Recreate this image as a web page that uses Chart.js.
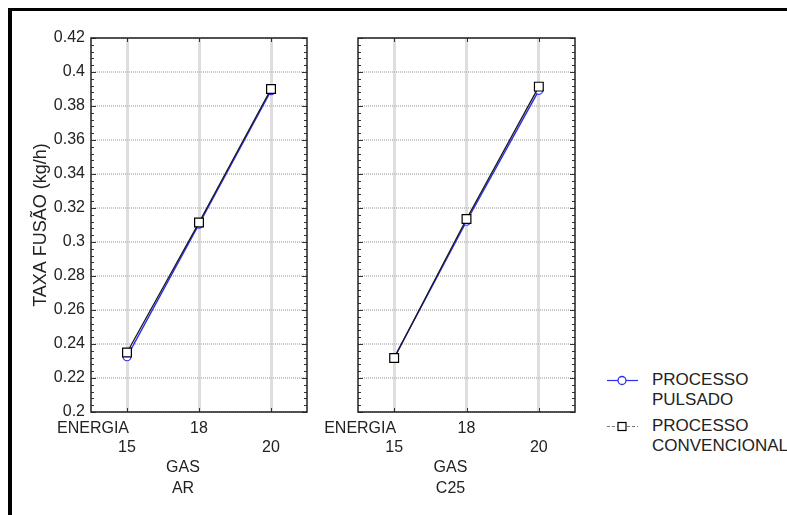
<!DOCTYPE html>
<html><head><meta charset="utf-8">
<script src="https://cdn.jsdelivr.net/npm/chart.js@4.4.1/dist/chart.umd.min.js"></script>
<style>
html,body{margin:0;padding:0;background:#fff;}
body{width:787px;height:515px;position:relative;overflow:hidden;font-family:"Liberation Sans",Arial,sans-serif;color:#222;}
#frame{position:absolute;left:8px;top:8px;width:800px;height:530px;border-left:4px solid #000;border-top:3px solid #000;box-sizing:border-box;}
#c1{position:absolute;left:0;top:0;}
#c2{position:absolute;left:300px;top:0;}
.legtxt{position:absolute;left:652px;font-size:17px;line-height:20px;white-space:nowrap;color:#222;}
#legsvg{position:absolute;left:600px;top:370px;}
</style>
</head><body>
<div id="frame"></div>
<canvas id="c1" width="330" height="515"></canvas>
<canvas id="c2" width="300" height="515"></canvas>
<svg id="legsvg" width="45" height="70">
  <line x1="7" y1="10.5" x2="38" y2="10.5" stroke="#3030f0" stroke-width="1.2"/>
  <circle cx="22" cy="10.5" r="4" fill="#fff" stroke="#3030f0" stroke-width="1.3"/>
  <line x1="7" y1="56.5" x2="38" y2="56.5" stroke="#777" stroke-width="1.2" stroke-dasharray="3,2"/>
  <rect x="18" y="52.5" width="8" height="8" fill="#fff" stroke="#000" stroke-width="1.2"/>
</svg>
<div class="legtxt" style="top:370px">PROCESSO<br>PULSADO</div>
<div class="legtxt" style="top:416px">PROCESSO<br>CONVENCIONAL</div>
<script>
// ---- data ----
const energia = ['15', '18', '20'];
const gasTypes = ['AR', 'C25'];
const pulsadoAR = [0.2325, 0.3105, 0.389];
const convencionalAR = [0.235, 0.3115, 0.390];
const pulsadoC25 = [0.2318, 0.3122, 0.3892];
const convencionalC25 = [0.2318, 0.3135, 0.3914];
const yMin = 0.2, yMax = 0.42, yStep = 0.02, yMinorStep = 0.004;
const yTitle = 'TAXA FUSÃO (kg/h)';
const energiaLabel = 'ENERGIA';
const gasLabel = 'GAS';

const FONT = '"Liberation Sans", Arial, sans-serif';
Chart.defaults.font.family = FONT;
Chart.defaults.color = '#222';

const fmt = v => String(Number(v.toFixed(2)));

const panelPlugin = {
  id: 'panel',
  afterDraw(chart, args, opts) {
    const {ctx, chartArea: a, scales: {x, y}} = chart;
    ctx.save();
    ctx.strokeStyle = '#333';
    ctx.lineWidth = 1;
    const n = Math.round((yMax - yMin) / yMinorStep);
    const per = Math.round(yStep / yMinorStep);
    ctx.beginPath();
    for (let i = 0; i <= n; i++) {
      const py = Math.round(y.getPixelForValue(yMin + i * yMinorStep)) + 0.5;
      const len = i % per === 0 ? 5 : 3;
      ctx.moveTo(a.left, py); ctx.lineTo(a.left + len, py);
      ctx.moveTo(a.right, py); ctx.lineTo(a.right - len, py);
    }
    for (let i = 0; i < energia.length; i++) {
      const px = Math.round(x.getPixelForValue(i)) + 0.5;
      ctx.moveTo(px, a.top); ctx.lineTo(px, a.top + 4);
      ctx.moveTo(px, a.bottom); ctx.lineTo(px, a.bottom - 4);
    }
    ctx.stroke();
    ctx.strokeStyle = '#222';
    ctx.lineWidth = 1.5;
    ctx.strokeRect(a.left, a.top, a.right - a.left, a.bottom - a.top);
    ctx.fillStyle = '#222';
    ctx.font = '16px ' + FONT;
    ctx.textBaseline = 'middle';
    ctx.textAlign = 'right';
    ctx.fillText(energiaLabel, x.getPixelForValue(0) + 2, a.bottom + 17);
    ctx.textAlign = 'center';
    const cx = (a.left + a.right) / 2 - 16;
    ctx.fillText(gasLabel, cx, a.bottom + 56);
    ctx.fillText(opts.gas, cx, a.bottom + 77);
    ctx.restore();
  }
};

function makeChart(id, pulsado, convencional, gas, first) {
  return new Chart(document.getElementById(id), {
    type: 'line',
    data: {
      labels: energia,
      datasets: [
        {label: 'PROCESSO CONVENCIONAL', data: convencional, borderColor: '#1a1a1a', borderWidth: 1.3,
         pointStyle: 'rect', pointRadius: 6.2, pointBorderColor: '#000', pointBackgroundColor: '#fff',
         pointBorderWidth: 1.2, tension: 0},
        {label: 'PROCESSO PULSADO', data: pulsado, borderColor: '#3030f0', borderWidth: 1.5,
         pointStyle: 'circle', pointRadius: 4, pointBorderColor: '#3030f0', pointBackgroundColor: '#fff',
         pointBorderWidth: 1.2, tension: 0}
      ]
    },
    options: {
      responsive: false,
      animation: false,
      events: [],
      layout: {padding: {top: 38, bottom: 63, left: 0, right: first ? 23 : 25}},
      plugins: {legend: {display: false}, tooltip: {enabled: false}, panel: {gas: gas}},
      scales: {
        x: {
          type: 'category', offset: true,
          grid: {offset: false, color: '#dedede', lineWidth: 3, drawTicks: false},
          border: {display: false},
          ticks: {
            color: '#222', font: {size: 16, lineHeight: '19px'}, padding: 7,
            maxRotation: 0, minRotation: 0, autoSkip: false,
            callback: (v, i) => i === 1 ? [energia[i], ''] : ['', energia[i]]
          },
          afterFit: s => { s.height = 40; }
        },
        y: {
          min: yMin, max: yMax,
          grid: {color: '#c8c8c8', lineWidth: 2, drawTicks: false},
          border: {display: false, dash: [1, 1]},
          ticks: {display: first, stepSize: yStep, color: '#222', font: {size: 16}, padding: 6, callback: v => fmt(v)},
          title: {display: first, text: yTitle, color: '#222', font: {size: 18}, padding: {top: 30}},
          afterFit: s => { s.width = first ? 91 : 58; }
        }
      }
    },
    plugins: [panelPlugin]
  });
}

makeChart('c1', pulsadoAR, convencionalAR, gasTypes[0], true);
makeChart('c2', pulsadoC25, convencionalC25, gasTypes[1], false);
</script>
</body></html>
